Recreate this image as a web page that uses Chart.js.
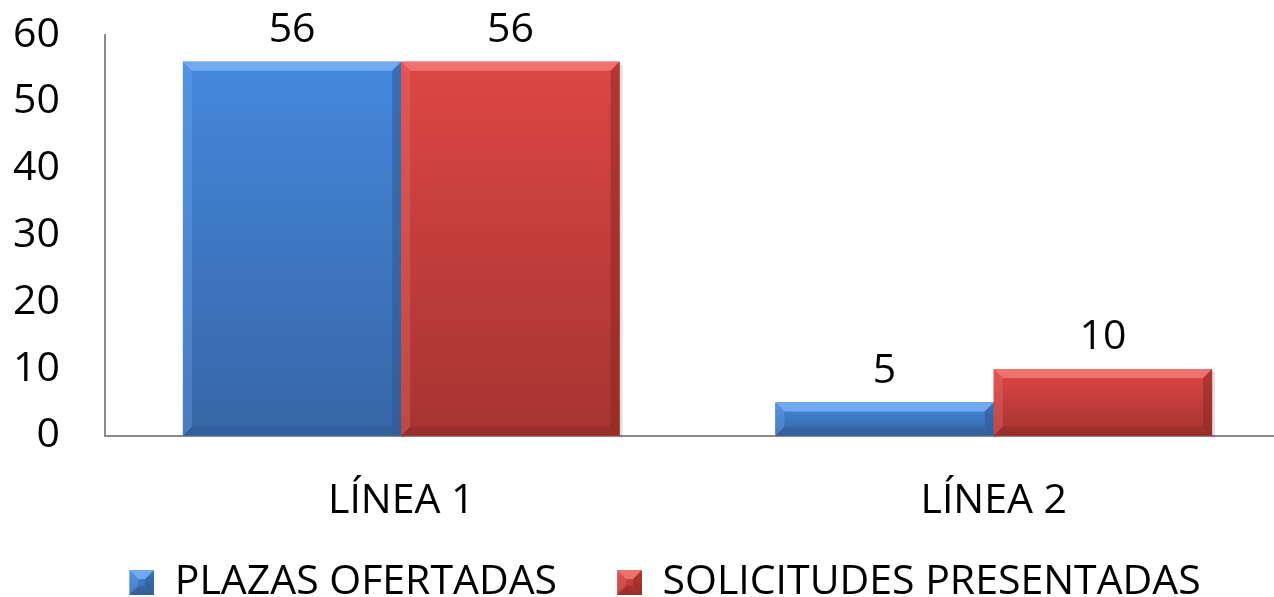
<!DOCTYPE html>
<html>
<head>
<meta charset="utf-8">
<script src="https://cdn.jsdelivr.net/npm/chart.js@4/dist/chart.umd.min.js"></script>
<style>
  html, body { margin: 0; padding: 0; background: #fff; overflow: hidden; }
  #wrap { width: 1290px; height: 597px; position: relative; }
</style>
</head>
<body>
<div id="wrap"><canvas id="chart"></canvas></div>
<script>
// Data
const categories = ['LÍNEA 1', 'LÍNEA 2'];
const plazasOfertadas = [56, 5];
const solicitudesPresentadas = [56, 10];
const yTicks = [0, 10, 20, 30, 40, 50, 60];

const FONT = '"Open Sans", "Liberation Sans", sans-serif';
const FS = 41;

// colour sets for the bevelled bars: top, bottom, highlight, shade
const palette = {
    blue: { top: '#4488dc', bottom: '#3766a6', light: '#79b0f2', dark: '#2c568f' },
    red: { top: '#dc4744', bottom: '#a63431', light: '#f27a76', dark: '#8a2522' }
};

function drawBevelBar(ctx, x0, y0, x1, y1, pal) {
    const h = y1 - y0;
    if (h <= 0) return;
    const b = Math.min(9, h / 2.5);
    const g = ctx.createLinearGradient(0, y0, 0, y1);
    g.addColorStop(0, pal.top);
    g.addColorStop(1, pal.bottom);
    ctx.fillStyle = g;
    ctx.fillRect(x0, y0, x1 - x0, h);

    // top edge
    ctx.fillStyle = pal.light;
    ctx.globalAlpha = 0.85;
    ctx.beginPath();
    ctx.moveTo(x0, y0); ctx.lineTo(x1, y0); ctx.lineTo(x1 - b, y0 + b); ctx.lineTo(x0 + b, y0 + b);
    ctx.closePath(); ctx.fill();
    // left edge
    ctx.globalAlpha = 0.3;
    ctx.beginPath();
    ctx.moveTo(x0, y0); ctx.lineTo(x0 + b, y0 + b); ctx.lineTo(x0 + b, y1 - b); ctx.lineTo(x0, y1);
    ctx.closePath(); ctx.fill();
    // right edge
    ctx.fillStyle = pal.dark;
    ctx.globalAlpha = 0.5;
    ctx.beginPath();
    ctx.moveTo(x1, y0); ctx.lineTo(x1 - b, y0 + b); ctx.lineTo(x1 - b, y1 - b); ctx.lineTo(x1, y1);
    ctx.closePath(); ctx.fill();
    // bottom edge
    ctx.globalAlpha = 0.4;
    ctx.beginPath();
    ctx.moveTo(x0, y1); ctx.lineTo(x0 + b, y1 - b); ctx.lineTo(x1 - b, y1 - b); ctx.lineTo(x1, y1);
    ctx.closePath(); ctx.fill();
    ctx.globalAlpha = 1;
}

// legend icon: transparent lead-in, bevelled square at the right
const ICON_W = 65;
function legendIcon(pal) {
    const c = document.createElement('canvas');
    c.width = ICON_W; c.height = 25;
    drawBevelBar(c.getContext('2d'), ICON_W - 25, 0, ICON_W, 25, pal);
    return c;
}

const bevelPlugin = {
    id: 'bevel',
    afterDatasetsDraw(chart) {
        const ctx = chart.ctx;
        ctx.save();
        chart.data.datasets.forEach((ds, i) => {
            chart.getDatasetMeta(i).data.forEach(bar => {
                const x0 = bar.x - bar.width / 2;
                const x1 = bar.x + bar.width / 2;
                // soft shadow on the right
                ctx.fillStyle = 'rgba(0,0,0,0.12)';
                ctx.fillRect(x1, bar.y + 3, 3, bar.base - bar.y - 1);
                drawBevelBar(ctx, x0, bar.y, x1, bar.base, ds.palette);
            });
        });
        ctx.restore();
    }
};

const valueLabels = {
    id: 'valueLabels',
    afterDatasetsDraw(chart) {
        const ctx = chart.ctx;
        ctx.save();
        ctx.font = FS + 'px ' + FONT;
        ctx.fillStyle = '#000';
        ctx.textAlign = 'center';
        ctx.textBaseline = 'bottom';
        chart.data.datasets.forEach((ds, i) => {
            chart.getDatasetMeta(i).data.forEach((bar, j) => {
                ctx.fillText(ds.data[j], bar.x, bar.y - 11);
            });
        });
        ctx.restore();
    }
};

// move the legend row a bit lower
const legendShift = {
    id: 'legendShift',
    afterLayout(chart) {
        const lg = chart.legend;
        lg.top += 16;
        lg.bottom += 16;
    }
};

const ctx = document.getElementById('chart').getContext('2d');
new Chart(ctx, {
    type: 'bar',
    data: {
        labels: categories,
        datasets: [{
            label: 'PLAZAS OFERTADAS',
            data: plazasOfertadas,
            backgroundColor: palette.blue.top,
            palette: palette.blue,
            icon: legendIcon(palette.blue)
        }, {
            label: 'SOLICITUDES PRESENTADAS',
            data: solicitudesPresentadas,
            backgroundColor: palette.red.top,
            palette: palette.red,
            icon: legendIcon(palette.red)
        }]
    },
    options: {
        responsive: true,
        maintainAspectRatio: false,
        animation: false,
        events: [],
        datasets: {
            bar: { categoryPercentage: 0.737, barPercentage: 1 }
        },
        layout: {
            padding: { top: 35, right: 0, left: 0, bottom: 0 }
        },
        plugins: {
            legend: {
                position: 'bottom',
                labels: {
                    font: { size: FS, family: FONT },
                    color: '#000',
                    usePointStyle: true,
                    pointStyleWidth: ICON_W,
                    boxHeight: 25,
                    padding: 20,
                    generateLabels(chart) {
                        return chart.data.datasets.map((ds, i) => ({
                            text: ds.label,
                            pointStyle: ds.icon,
                            fillStyle: ds.palette.top,
                            strokeStyle: 'transparent',
                            lineWidth: 0,
                            hidden: false,
                            datasetIndex: i,
                            fontColor: '#000'
                        }));
                    }
                }
            },
            tooltip: { enabled: false }
        },
        scales: {
            x: {
                grid: { display: false, tickLength: 41 },
                border: { display: true, color: '#8a8a8a', width: 2 },
                ticks: {
                    color: '#000',
                    font: { size: FS, family: FONT },
                    padding: 0
                }
            },
            y: {
                min: 0,
                max: 60,
                afterBuildTicks(axis) {
                    axis.ticks = yTicks.map(v => ({ value: v }));
                },
                afterFit(axis) { axis.width = 105; },
                grid: { display: false, tickLength: 45 },
                border: { display: true, color: '#8a8a8a', width: 2 },
                ticks: {
                    color: '#000',
                    font: { size: FS, family: FONT },
                    padding: 0
                }
            }
        }
    },
    plugins: [bevelPlugin, valueLabels, legendShift]
});
</script>
</body>
</html>
